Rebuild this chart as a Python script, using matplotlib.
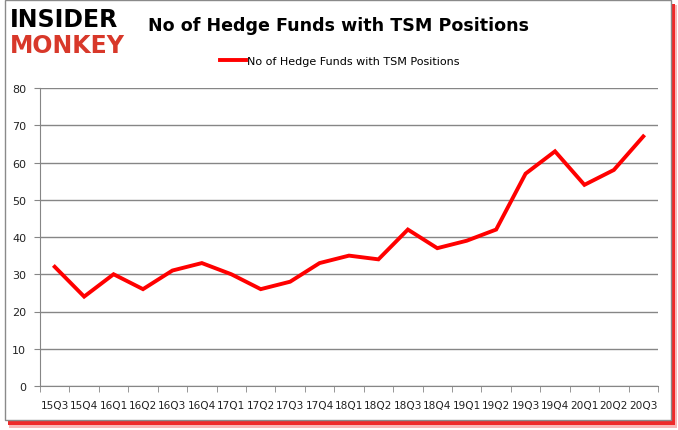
import matplotlib.pyplot as plt
from matplotlib.patches import Rectangle

quarters = ["15Q3", "15Q4", "16Q1", "16Q2", "16Q3", "16Q4", "17Q1", "17Q2", "17Q3",
            "17Q4", "18Q1", "18Q2", "18Q3", "18Q4", "19Q1", "19Q2", "19Q3", "19Q4",
            "20Q1", "20Q2", "20Q3"]
funds = [32, 24, 30, 26, 31, 33, 30, 26, 28, 33, 35, 34, 42, 37, 39, 42, 57, 63, 54, 58, 67]
series_name = "No of Hedge Funds with TSM Positions"

W, H = 678, 431
fig = plt.figure(figsize=(W / 100, H / 100), dpi=100)


def box(x0, y0, x1, y1, **kw):
    # pixel coords from top-left
    fig.patches.append(Rectangle((x0 / W, 1 - y1 / H), (x1 - x0) / W, (y1 - y0) / H,
                                 transform=fig.transFigure, **kw))


# frame with red shadow (right / bottom)
box(9, 6, 677, 429, facecolor="#f8b8b8", edgecolor="none", zorder=-3)
box(8, 5, 675, 426, facecolor="#ee2a2a", edgecolor="none", zorder=-2)
box(5, 1, 671, 421, facecolor="white", edgecolor="#8a8a8a", linewidth=1, zorder=-1)

ax = fig.add_axes([40 / W, (H - 387) / H, 618 / W, 298 / H])
x = range(len(quarters))
ax.plot(x, funds, color="#ff0000", linewidth=2.8, solid_joinstyle="miter", label=series_name)

ax.set_xlim(-0.5, len(quarters) - 0.5)
ax.set_ylim(0, 80)
ax.set_yticks(range(0, 81, 10))
ax.set_xticks(x)
ax.set_xticklabels(quarters, fontsize=7.6, color="#222222")
ax.set_xticks([i - 0.5 for i in range(len(quarters) + 1)], minor=True)
ax.tick_params(axis="x", which="major", length=0, pad=10)
ax.tick_params(axis="x", which="minor", length=4, color="#868686")
ax.tick_params(axis="y", length=4, color="#868686", labelsize=8, labelcolor="#222222", pad=6)
ax.grid(axis="y", color="#868686", linewidth=1)
ax.set_axisbelow(True)
ax.patch.set_alpha(0)
for s in ["top", "right"]:
    ax.spines[s].set_visible(False)
for s in ["left", "bottom"]:
    ax.spines[s].set_color("#868686")

fig.text(339 / W, 1 - 26 / H, "No of Hedge Funds with TSM Positions", ha="center", va="center",
         fontsize=12.6, fontweight="bold", family="DejaVu Sans")
fig.legend(loc="center", bbox_to_anchor=(340 / W, 1 - 62 / H), frameon=False, fontsize=8,
           handlelength=2.3, handletextpad=0.1)

# logo
fig.text(10 / W, 1 - 20 / H, "INSIDER", fontsize=17, fontweight="heavy", color="black",
         va="center", ha="left", family="DejaVu Sans")
fig.text(10 / W, 1 - 46 / H, "MONKEY", fontsize=17, fontweight="heavy", color="#d8382a",
         va="center", ha="left", family="DejaVu Sans")

fig.savefig("out.png", dpi=100)
